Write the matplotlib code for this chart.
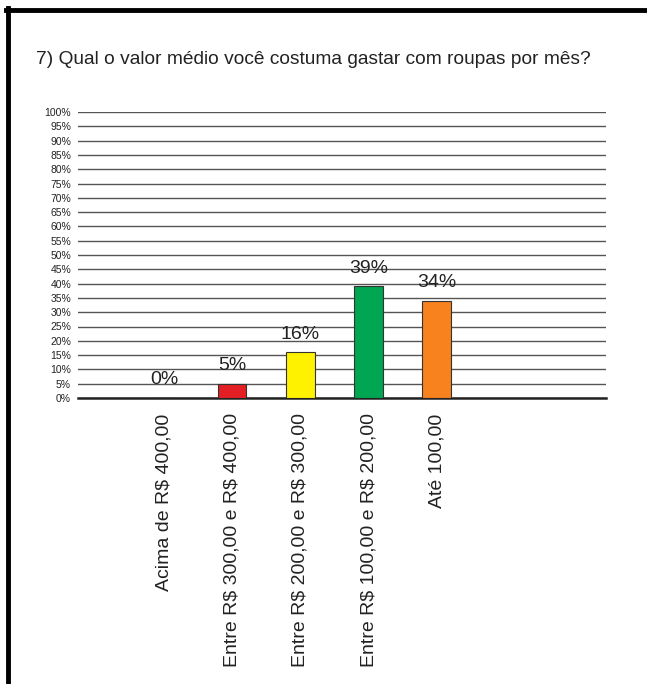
import matplotlib
matplotlib.use("Agg")
import matplotlib.pyplot as plt
from matplotlib.lines import Line2D
from matplotlib import font_manager

plt.rcParams['font.family'] = ['Liberation Sans', 'DejaVu Sans']
plt.rcParams['text.parse_math'] = False

names = {f.name for f in font_manager.fontManager.ttflist}
narrow_family = ["Liberation Sans Narrow", "Liberation Sans"] if "Liberation Sans Narrow" in names else ["Liberation Sans"]

categories = ["Acima de R$ 400,00", "Entre R$ 300,00 e R$ 400,00",
              "Entre R$ 200,00 e R$ 300,00", "Entre R$ 100,00 e R$ 200,00",
              "Até 100,00"]
values = [0, 5, 16, 39, 34]
labels = ["0%", "5%", "16%", "39%", "34%"]
colors = ["#ffffff", "#e31e24", "#fff200", "#00a651", "#f7821e"]
yticks = list(range(0, 101, 5))
ytick_labels = [f"{t}%" for t in yticks]
title = "7) Qual o valor médio você costuma gastar com roupas por mês?"

W, H = 647, 684
fig = plt.figure(figsize=(W / 100, H / 100), dpi=100)
ax = fig.add_axes([78 / W, 1 - 398 / H, (606 - 78) / W, (398 - 112) / H])

x = list(range(len(values)))
ax.bar(x, values, width=0.42, color=colors, edgecolor="#333333", linewidth=0.8, zorder=3)
for xi, v, lab in zip(x, values, labels):
    ax.annotate(lab, (xi, v), xytext=(0, 7), textcoords="offset points",
                ha="center", va="bottom", fontsize=14, color="#222222", zorder=4,
                family=narrow_family)

ax.set_xlim(-1.26, 6.48)
ax.set_ylim(0, 100)
ax.set_yticks(yticks)
ax.set_yticklabels(ytick_labels, fontsize=7.5, color="#222222", family=narrow_family)
ax.tick_params(axis="y", length=0, pad=5)
ax.yaxis.grid(True, color="#555555", linewidth=1.0, zorder=0)
ax.set_axisbelow(True)
ax.set_xticks(x)
ax.set_xticklabels(categories, rotation=90, fontsize=14, color="#222222", family=narrow_family)
ax.tick_params(axis="x", length=0, pad=11)
for s in ["top", "right", "left"]:
    ax.spines[s].set_visible(False)
ax.spines["bottom"].set_color("#222222")
ax.spines["bottom"].set_linewidth(1.8)

fig.text(36 / W, 1 - 60 / H, title, fontsize=13.8, ha="left", va="center", color="#222222")

# frame border (top and left)
fig.add_artist(Line2D([6 / W, 1.0], [1 - 10 / H, 1 - 10 / H], color="black", linewidth=3.5,
                      transform=fig.transFigure))
fig.add_artist(Line2D([8 / W, 8 / W], [1 - 8 / H, 0], color="black", linewidth=3.5,
                      transform=fig.transFigure))

fig.savefig("out.png", dpi=100, facecolor="white")
